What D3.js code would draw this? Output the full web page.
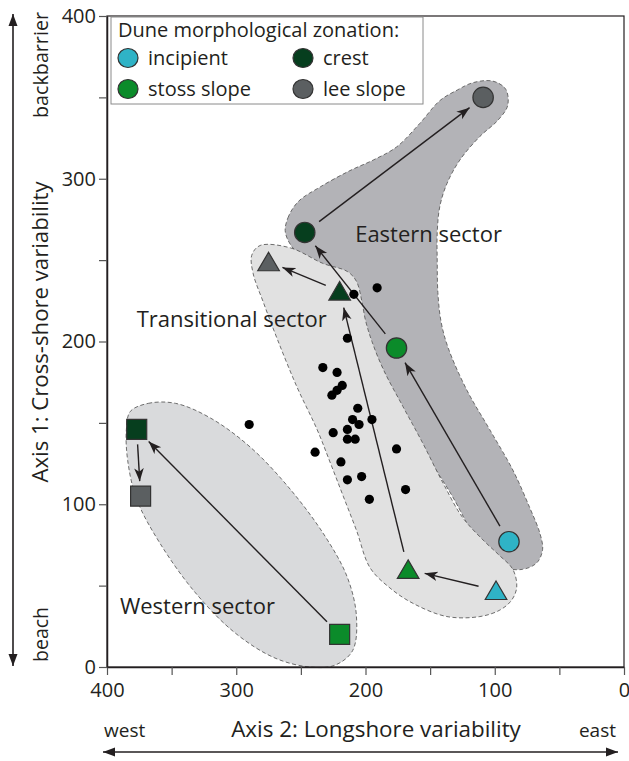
<!DOCTYPE html>
<html>
<head>
<meta charset="utf-8">
<script src="https://cdn.jsdelivr.net/npm/d3@7"></script>
<style>
  html, body { margin: 0; padding: 0; background: #fff; }
  svg { display: block; }
  text { font-family: "Open Sans", "Noto Sans", sans-serif; fill: #231f20; }
</style>
</head>
<body>
<svg id="chart" width="629" height="761"></svg>
<script>
// ---- data -------------------------------------------------------------
const xTicks = [400, 350, 300, 250, 200, 150, 100, 50, 0];
const yTicks = [0, 50, 100, 150, 200, 250, 300, 350, 400];

const legendZones = ["incipient", "crest", "stoss slope", "lee slope"];

// dune trajectories per sector (axis 2 = x, axis 1 = y)
const westernZones = ["stoss slope", "crest", "lee slope"];
const westernX = [220, 377, 374];
const westernY = [20, 146, 105];

const transitionalZones = ["incipient", "stoss slope", "crest", "lee slope"];
const transitionalX = [99, 167, 220, 275];
const transitionalY = [47, 60, 231, 249];

const easternZones = ["incipient", "stoss slope", "crest", "lee slope"];
const easternX = [89, 176, 247, 109];
const easternY = [77, 196, 267, 350];

// remaining samples
const sampleX = [191, 209, 214, 233, 222, 218, 222, 226, 206, 195, 210, 205,
                 214, 225, 214, 208, 290, 176, 239, 219, 214, 203, 169, 197];
const sampleY = [233, 229, 202, 184, 181, 173, 170, 167, 159, 152, 152, 149,
                 146, 144, 140, 140, 149, 134, 132, 126, 115, 117, 109, 103];

// sector envelopes, in axis units
const westernOutline = [[382,157],[368,162],[347,162],[320,153],[289,135],[258,109],
  [231,80],[214,55],[207,31],[210,10],[224,1],[243,0],[270,5.5],[301,21],[332,46],
  [359,76],[377,103],[384,127],[385,146]];
const transitionalOutline = [[281.5,259],[258,257.5],[233,248],[214,243],[207,237],
  [203,225.5],[200,213],[195,200],[186,182.5],[171,160],[156,138],[140,113],[125,92],
  [109,78],[97,69],[86,60],[83,49],[87,41],[96,35],[111.5,31],[137,31],[163,39],
  [181,48.5],[196.5,61],[207,84],[217,104.5],[227,125],[237.5,146],[253,172],
  [268,201],[279,224],[287,242],[288,253]];
const easternOutline = [[262,267],[260,276],[252,286],[235,295],[212,305],[194,311.5],
  [176,319.5],[158,334],[142.5,348],[129,354.5],[117,359],[101.5,360],[91.5,355],
  [90,345],[97.5,336],[111.5,326],[127,311.5],[137,297],[142.5,283],[144.5,267],
  [144.5,249],[144,230],[141.5,212],[136,196],[121.5,170],[104,146],[86,121],
  [73,98],[65,82],[63,72],[67.5,64],[78.5,60],[94,61.5],[106,70],[117,82],
  [132.5,104.5],[150,127],[168,152],[183.5,178],[196.5,201],[208,225.5],[221,241],
  [239,249],[254.5,256]];

const sectorLabels = ["Western sector", "Transitional sector", "Eastern sector"];

// ---- layout ------------------------------------------------------------
const svg = d3.select("#chart");
const plot = { left: 107, right: 624, top: 16, bottom: 667 };

const x = d3.scaleLinear().domain([400, 0]).range([plot.left, plot.right]);
const y = d3.scaleLinear().domain([0, 400]).range([plot.bottom, plot.top]);

const zoneColor = d3.scaleOrdinal()
  .domain(legendZones)
  .range(["#2fb3c6", "#063e1e", "#0b8b2a", "#5b5f61"]);

const ink = "#231f20";

// ---- sector envelopes -------------------------------------------------
const outlineLine = d3.line()
  .x(d => x(d[0])).y(d => y(d[1]))
  .curve(d3.curveCatmullRomClosed.alpha(0.5));

const envelopes = [
  { pts: easternOutline, fill: "#b3b3b7" },
  { pts: transitionalOutline, fill: "#e1e1e1" },
  { pts: westernOutline, fill: "#d9dadc" }
];
svg.append("g").selectAll("path").data(envelopes).join("path")
  .attr("d", d => outlineLine(d.pts))
  .attr("fill", d => d.fill)
  .attr("stroke", "#5e5e5e")
  .attr("stroke-width", 0.9)
  .attr("stroke-dasharray", "4,2.5");

// ---- axes & frame -----------------------------------------------------
svg.append("rect")
  .attr("x", plot.left).attr("y", plot.top)
  .attr("width", plot.right - plot.left).attr("height", plot.bottom - plot.top)
  .attr("fill", "none").attr("stroke", ink).attr("stroke-width", 1.2);

const xAxis = svg.append("g")
  .attr("transform", `translate(0,${plot.bottom})`)
  .call(d3.axisBottom(x).tickValues(xTicks)
    .tickFormat(d => d % 100 === 0 ? d : "")
    .tickSize(8).tickSizeOuter(0).tickPadding(8));
const yAxis = svg.append("g")
  .attr("transform", `translate(${plot.left},0)`)
  .call(d3.axisLeft(y).tickValues(yTicks)
    .tickFormat(d => d % 100 === 0 ? d : "")
    .tickSize(8).tickSizeOuter(0).tickPadding(3));
[xAxis, yAxis].forEach(a => {
  a.select(".domain").attr("stroke", ink).attr("stroke-width", 1.5);
  a.selectAll(".tick line").attr("stroke", "#555").attr("stroke-width", 1.2);
  a.selectAll(".tick text")
    .attr("font-family", '"Open Sans", sans-serif')
    .attr("font-size", 20).attr("fill", "#231f20");
});

// ---- sector labels ----------------------------------------------------
const labelPos = [[390, 32.6], [377, 209], [208, 261]];
svg.append("g").selectAll("text").data(sectorLabels).join("text")
  .attr("x", (d, i) => x(labelPos[i][0]))
  .attr("y", (d, i) => y(labelPos[i][1]))
  .attr("font-size", 22)
  .text(d => d);

// ---- arrows between zones --------------------------------------------
const defs = svg.append("defs");
defs.append("marker")
  .attr("id", "head")
  .attr("markerUnits", "userSpaceOnUse")
  .attr("viewBox", "-13 -6 14 12")
  .attr("refX", 0).attr("refY", 0)
  .attr("markerWidth", 14).attr("markerHeight", 12)
  .attr("orient", "auto")
  .append("path")
  .attr("d", "M0,0 L-13,-4.8 L-9.5,0 L-13,4.8 Z")
  .attr("fill", ink);

const sectors = [
  { xs: westernX, ys: westernY, zones: westernZones, shape: "square" },
  { xs: transitionalX, ys: transitionalY, zones: transitionalZones, shape: "triangle" },
  { xs: easternX, ys: easternY, zones: easternZones, shape: "circle" }
];

const arrowG = svg.append("g");
sectors.forEach(s => {
  for (let i = 0; i < s.xs.length - 1; i++) {
    const x0 = x(s.xs[i]), y0 = y(s.ys[i]);
    const x1 = x(s.xs[i + 1]), y1 = y(s.ys[i + 1]);
    const len = Math.hypot(x1 - x0, y1 - y0);
    const ux = (x1 - x0) / len, uy = (y1 - y0) / len;
    const gap0 = len > 80 ? 18 : 15, gap1 = len > 80 ? 17 : 15;
    arrowG.append("line")
      .attr("x1", x0 + ux * gap0).attr("y1", y0 + uy * gap0)
      .attr("x2", x1 - ux * gap1).attr("y2", y1 - uy * gap1)
      .attr("stroke", ink).attr("stroke-width", 1.4)
      .attr("marker-end", "url(#head)");
  }
});

// ---- samples -----------------------------------------------------------
svg.append("g").selectAll("circle").data(sampleX).join("circle")
  .attr("cx", d => x(d))
  .attr("cy", (d, i) => y(sampleY[i]))
  .attr("r", 4.6)
  .attr("fill", "#000");

// ---- zone markers ------------------------------------------------------
const markerPath = {
  square: "M-10,-10H10V10H-10Z",
  triangle: "M0,-9.5L10.8,9L-10.8,9Z",
  circle: d3.symbol().type(d3.symbolCircle).size(Math.PI * 10.2 * 10.2)()
};
const markG = svg.append("g");
sectors.forEach(s => {
  markG.selectAll(null).data(s.xs).join("path")
    .attr("transform", (d, i) => `translate(${x(d)},${y(s.ys[i])})`)
    .attr("d", markerPath[s.shape])
    .attr("fill", (d, i) => zoneColor(s.zones[i]))
    .attr("stroke", "#333")
    .attr("stroke-width", 1.2);
});

// ---- legend ------------------------------------------------------------
const lg = svg.append("g");
lg.append("rect")
  .attr("x", 111).attr("y", 17).attr("width", 312).attr("height", 87)
  .attr("fill", "#fff").attr("stroke", "#8a8a8a").attr("stroke-width", 1);
lg.append("text").attr("x", 118).attr("y", 37).attr("font-size", 20)
  .text("Dune morphological zonation:");
const legendItem = lg.selectAll("g.item").data(legendZones).join("g")
  .attr("class", "item")
  .attr("transform", (d, i) => `translate(${i % 2 === 0 ? 128 : 303},${i < 2 ? 58 : 89})`);
legendItem.append("ellipse")
  .attr("rx", 10).attr("ry", 9.5)
  .attr("fill", d => zoneColor(d)).attr("stroke", "#333").attr("stroke-width", 1.2);
legendItem.append("text")
  .attr("x", 20).attr("y", 7).attr("font-size", 20)
  .text(d => d);

// ---- axis titles with direction arrows --------------------------------
defs.append("marker")
  .attr("id", "tip")
  .attr("markerUnits", "userSpaceOnUse")
  .attr("viewBox", "-12 -5 13 10")
  .attr("refX", 0).attr("refY", 0)
  .attr("markerWidth", 13).attr("markerHeight", 10)
  .attr("orient", "auto-start-reverse")
  .append("path")
  .attr("d", "M0,0 L-12,-4.5 L-12,4.5 Z")
  .attr("fill", ink);

svg.append("line")
  .attr("x1", 103).attr("y1", 752).attr("x2", 618).attr("y2", 752)
  .attr("stroke", ink).attr("stroke-width", 1.6)
  .attr("marker-start", "url(#tip)").attr("marker-end", "url(#tip)");
svg.append("line")
  .attr("x1", 13).attr("y1", 14).attr("x2", 13).attr("y2", 666)
  .attr("stroke", ink).attr("stroke-width", 1.6)
  .attr("marker-start", "url(#tip)").attr("marker-end", "url(#tip)");

svg.append("text").attr("x", 104).attr("y", 737).attr("font-size", 19).text("west");
svg.append("text").attr("x", 616).attr("y", 737).attr("font-size", 19)
  .attr("text-anchor", "end").text("east");
svg.append("text").attr("x", 376).attr("y", 737).attr("font-size", 22.4)
  .attr("text-anchor", "middle").text("Axis 2: Longshore variability");

const yTitle = svg.append("g").attr("transform", "translate(48,0) rotate(-90)");
yTitle.append("text").attr("x", -12).attr("y", 0).attr("font-size", 19.7)
  .attr("text-anchor", "end").text("backbarrier");
yTitle.append("text").attr("x", -332).attr("y", 0).attr("font-size", 22.2)
  .attr("text-anchor", "middle").text("Axis 1: Cross-shore variability");
yTitle.append("text").attr("x", -662).attr("y", 0).attr("font-size", 19.5)
  .attr("text-anchor", "start").text("beach");
</script>
</body>
</html>
